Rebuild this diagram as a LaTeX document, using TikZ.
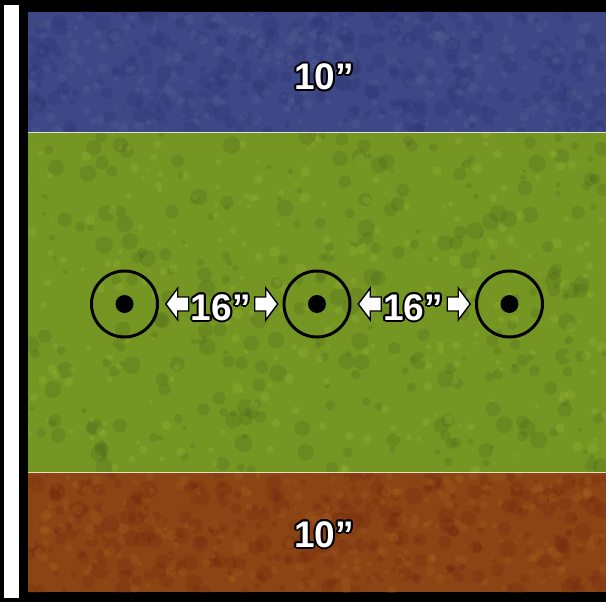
\documentclass[tikz,border=0pt]{standalone}
\usepackage{fontspec}
\setmainfont{Liberation Sans}
\usetikzlibrary{calc}
\definecolor{bandblue}{RGB}{62,72,135}
\definecolor{blueDark}{RGB}{40,45,110}
\definecolor{blueLight}{RGB}{95,105,150}
\definecolor{bandgreen}{RGB}{118,150,36}
\definecolor{greenDark}{RGB}{70,95,25}
\definecolor{greenLight}{RGB}{165,195,60}
\definecolor{bandbrown}{RGB}{140,68,20}
\definecolor{brownDark}{RGB}{110,35,12}
\definecolor{brownLight}{RGB}{170,105,35}
\definecolor{seamline}{RGB}{225,225,200}
\tikzset{
  txt/.style={font=\bfseries\fontsize{37}{37}\selectfont, inner sep=0pt, anchor=base},
  ring/.style={circle, draw=black, line width=3pt, minimum size=66pt, inner sep=0pt},
  bullseye/.style={circle, fill=black, minimum size=18pt, inner sep=0pt},
  blockarrow/.style={fill=white, draw=black, line width=1.4pt, line join=miter},
  grunge/.style={opacity=0.22}
}
\newcommand{\outltext}[3]{%
  \foreach \a in {0,30,...,330}{\node[txt, text=black] (#1-\a) at ($(#2)+(\a:2pt)$) {#3};}
  \node[txt, text=white] (#1) at (#2) {#3};
}
\newcommand{\grungeband}[6]{% x0 y0 x1 y1 dark light
  \begin{scope}
    \clip (#1,#2) rectangle (#3,#4);
    \foreach \i in {1,...,300}{
      \pgfmathsetmacro\gx{#1+(#3-#1)*rnd}
      \pgfmathsetmacro\gy{#2+(#4-#2)*rnd}
      \pgfmathsetmacro\gr{2+7*rnd}
      \fill[#5, grunge] (\gx,\gy) circle (\gr pt);
    }
    \foreach \i in {1,...,260}{
      \pgfmathsetmacro\gx{#1+(#3-#1)*rnd}
      \pgfmathsetmacro\gy{#2+(#4-#2)*rnd}
      \pgfmathsetmacro\gr{1.5+4*rnd}
      \fill[#6, grunge] (\gx,\gy) circle (\gr pt);
    }
  \end{scope}
}
\begin{document}
\begin{tikzpicture}[x=1pt,y=-1pt]
\useasboundingbox (0,0) rectangle (606,602);
\pgfmathsetseed{11}
% frame
\fill[white] (0,0) rectangle (606,602);
\fill[black] (0,0) rectangle (606,12);
\fill[black] (0,0) rectangle (28,602);
\fill[black] (0,592) rectangle (606,602);
\fill[white] (4,5) rectangle (19,598);
% bands
\fill[bandblue] (28,12) rectangle (606,132);
\fill[bandgreen] (28,133) rectangle (606,472);
\fill[bandbrown] (28,473) rectangle (606,592);
\grungeband{28}{12}{606}{132}{blueDark}{blueLight}
\grungeband{28}{133}{606}{472}{greenDark}{greenLight}
\grungeband{28}{473}{606}{592}{brownDark}{brownLight}
\draw[seamline, line width=1.3pt] (28,132.5) -- (606,132.5);
\draw[seamline, line width=1.3pt] (28,472.5) -- (606,472.5);
% targets
\foreach \n/\x in {1/124.5, 2/317, 3/509.5}{
  \node[ring] (c\n) at (\x,304) {};
  \node[bullseye] (d\n) at (c\n.center) {};
}
% labels
\outltext{top}{324,90}{10"}
\outltext{bot}{324,547}{10"}
\coordinate (m1) at ($(c1)!0.5!(c2)$);
\coordinate (m2) at ($(c2)!0.5!(c3)$);
\foreach \k in {1,2}{
  \outltext{s\k}{$(m\k)+(0,16)$}{16"}
  \draw[blockarrow] ($(m\k)+(-55,0)$) -- ++(12,-16) -- ++(0,9) -- ++(11,0) -- ++(0,14) -- ++(-11,0) -- ++(0,9) -- cycle;
  \draw[blockarrow] ($(m\k)+(57,0)$) -- ++(-12,-16) -- ++(0,9) -- ++(-11,0) -- ++(0,14) -- ++(11,0) -- ++(0,9) -- cycle;
}
\end{tikzpicture}
\end{document}
